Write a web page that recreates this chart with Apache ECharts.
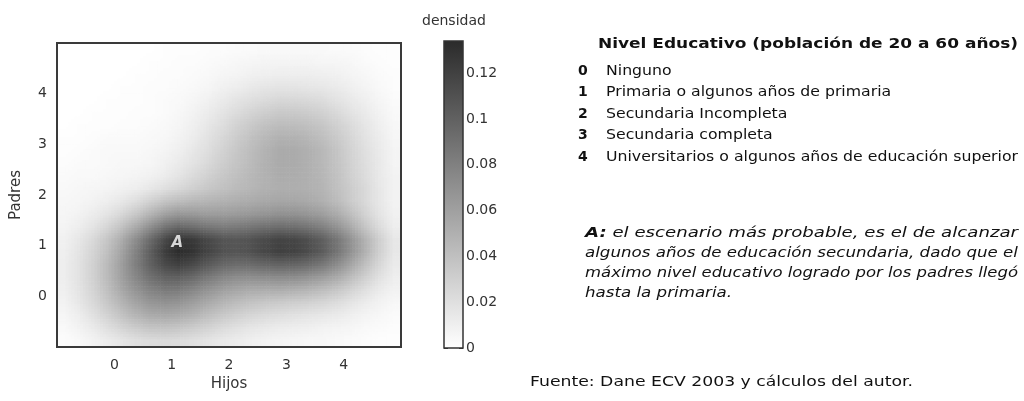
<!DOCTYPE html>
<html>
<head>
<meta charset="utf-8">
<script src="https://cdn.jsdelivr.net/npm/echarts@6/dist/echarts.min.js"></script>
<style>
  html, body { margin: 0; padding: 0; background: #fff; }
  #chart { width: 1024px; height: 401px; }
</style>
</head>
<body>
<div id="chart"></div>
<script>
// etiquetas de los ejes
const hijosTicks = [0, 1, 2, 3, 4]
const padresTicks = [0, 1, 2, 3, 4]
const densidadTicks = [0, 0.02, 0.04, 0.06, 0.08, 0.1, 0.12]
const densidadMax = 0.134

// centros de las celdas (paso 0.25)
const paso = 0.25
const hijosCentros = [-0.875, -0.625, -0.375, -0.125, 0.125, 0.375, 0.625, 0.875, 1.125, 1.375, 1.625, 1.875,
  2.125, 2.375, 2.625, 2.875, 3.125, 3.375, 3.625, 3.875, 4.125, 4.375, 4.625, 4.875]
const padresCentros = [4.875, 4.625, 4.375, 4.125, 3.875, 3.625, 3.375, 3.125, 2.875, 2.625, 2.375, 2.125,
  1.875, 1.625, 1.375, 1.125, 0.875, 0.625, 0.375, 0.125, -0.125, -0.375, -0.625, -0.875]

// densidad x 1000, una fila por cada valor de padresCentros (de arriba hacia abajo)
const densidadMil = [
  [0, 0, 0, 0, 0, 0, 0, 1, 1, 1, 2, 2, 3, 3, 4, 4, 4, 4, 4, 3, 3, 2, 1, 1],
  [0, 0, 0, 0, 0, 0, 1, 1, 2, 2, 3, 4, 5, 6, 7, 7, 7, 7, 6, 6, 5, 3, 2, 1],
  [0, 0, 0, 0, 0, 1, 1, 2, 2, 3, 4, 6, 7, 9, 10, 11, 11, 11, 10, 9, 7, 5, 3, 2],
  [0, 0, 0, 0, 1, 1, 2, 2, 3, 4, 6, 9, 11, 14, 16, 17, 17, 16, 15, 13, 10, 7, 4, 2],
  [0, 0, 0, 1, 1, 1, 2, 3, 4, 6, 9, 13, 17, 20, 23, 25, 25, 24, 22, 18, 14, 10, 6, 3],
  [0, 0, 1, 1, 1, 2, 2, 3, 5, 8, 12, 17, 22, 27, 31, 34, 34, 32, 29, 24, 18, 13, 8, 4],
  [0, 1, 1, 1, 2, 2, 3, 4, 6, 10, 15, 21, 28, 34, 39, 42, 42, 40, 36, 30, 23, 16, 10, 5],
  [1, 1, 2, 3, 3, 3, 4, 5, 8, 12, 18, 25, 32, 39, 45, 49, 49, 46, 41, 34, 26, 18, 12, 6],
  [1, 2, 3, 4, 4, 4, 5, 7, 10, 15, 21, 28, 35, 42, 48, 53, 53, 50, 45, 37, 28, 20, 13, 7],
  [2, 3, 3, 4, 5, 5, 6, 9, 13, 18, 24, 31, 37, 43, 49, 53, 53, 50, 45, 38, 29, 21, 14, 7],
  [3, 4, 4, 5, 6, 7, 9, 12, 17, 23, 29, 35, 40, 45, 49, 52, 52, 50, 46, 39, 30, 22, 14, 8],
  [4, 5, 6, 7, 9, 11, 15, 20, 25, 30, 35, 39, 43, 46, 49, 51, 51, 50, 47, 40, 32, 24, 15, 8],
  [5, 6, 8, 11, 15, 21, 29, 37, 42, 45, 47, 49, 51, 53, 55, 56, 56, 54, 50, 43, 33, 24, 15, 8],
  [6, 8, 12, 17, 25, 35, 47, 59, 65, 64, 62, 62, 63, 65, 67, 69, 69, 66, 61, 53, 41, 28, 17, 9],
  [7, 11, 17, 26, 38, 53, 70, 86, 94, 90, 85, 82, 83, 86, 89, 91, 90, 86, 79, 68, 53, 36, 22, 11],
  [9, 15, 24, 36, 52, 72, 93, 114, 128, 124, 115, 108, 106, 109, 114, 118, 117, 111, 101, 87, 68, 48, 30, 15],
  [10, 17, 27, 40, 58, 79, 101, 122, 133, 128, 118, 110, 107, 110, 116, 120, 119, 113, 103, 88, 69, 49, 30, 15],
  [11, 18, 29, 43, 61, 81, 99, 114, 120, 114, 104, 96, 92, 93, 96, 98, 97, 93, 85, 73, 57, 40, 25, 13],
  [11, 18, 29, 43, 60, 76, 90, 99, 100, 94, 85, 77, 72, 71, 72, 73, 72, 68, 62, 54, 42, 30, 19, 11],
  [10, 17, 27, 40, 55, 68, 78, 84, 83, 76, 68, 61, 56, 53, 52, 52, 50, 47, 42, 36, 28, 20, 13, 8],
  [8, 15, 24, 35, 47, 58, 66, 69, 67, 61, 54, 47, 42, 38, 35, 33, 31, 29, 26, 22, 17, 12, 8, 5],
  [6, 11, 19, 28, 38, 47, 53, 55, 53, 48, 41, 35, 30, 26, 23, 21, 19, 17, 15, 13, 10, 7, 5, 3],
  [4, 8, 13, 20, 27, 33, 37, 38, 36, 32, 28, 23, 19, 16, 14, 12, 11, 10, 8, 7, 6, 4, 3, 2],
  [2, 4, 8, 12, 16, 20, 22, 23, 22, 20, 17, 14, 12, 10, 8, 7, 6, 5, 5, 4, 3, 2, 1, 1]
]

// punto A (escenario más probable)
const puntoA = [1.1, 1.05]

const tituloNiveles = 'Nivel Educativo (población de 20 a 60 años)'
const niveles = [
  'Ninguno',
  'Primaria o algunos años de primaria',
  'Secundaria Incompleta',
  'Secundaria completa',
  'Universitarios o algunos años de educación superior'
]
const notaA = [
  ' el escenario más probable, es el de alcanzar',
  'algunos años de educación secundaria, dado que el',
  'máximo nivel educativo logrado por los padres llegó',
  'hasta la primaria.'
]
const fuente = 'Fuente: Dane ECV 2003 y cálculos del autor.'

const fuenteTexto = 'DejaVu Sans, Verdana, sans-serif'
const grisOscuro = '#2b2b2b'
const escala = ['#ffffff', grisOscuro]

const filas = padresCentros.length
const cols = hijosCentros.length
const celdas = []
padresCentros.forEach((y, r) => {
  hijosCentros.forEach((x, c) => {
    celdas.push([x, y, densidadMil[r][c] / 1000])
  })
})

const soloTicks = lista => v => (lista.some(t => Math.abs(t - v) < 1e-9) ? String(+v.toFixed(2)) : '')

// sombreado suave dentro de cada celda (entre los centros vecinos)
const sub = 5
const valorEn = (q, p) => {
  q = Math.min(Math.max(q, 0), filas - 1)
  p = Math.min(Math.max(p, 0), cols - 1)
  const r0 = Math.floor(q), c0 = Math.floor(p)
  const r1 = Math.min(r0 + 1, filas - 1), c1 = Math.min(c0 + 1, cols - 1)
  const tq = q - r0, tp = p - c0
  const arriba = densidadMil[r0][c0] * (1 - tp) + densidadMil[r0][c1] * tp
  const abajo = densidadMil[r1][c0] * (1 - tp) + densidadMil[r1][c1] * tp
  return (arriba * (1 - tq) + abajo * tq) / 1000
}

// medir texto para ajustar el ancho como en la figura original
const ctx = document.createElement('canvas').getContext('2d')
const ancho = (txt, font) => { ctx.font = font; return ctx.measureText(txt).width }

const fNormal = '14px ' + fuenteTexto
const fBold = 'bold 14px ' + fuenteTexto
const fItal = 'italic 14px ' + fuenteTexto
const fBoldItal = 'italic bold 14px ' + fuenteTexto

const textos = [
  { type: 'text', left: 422, top: 14, style: { text: 'densidad', font: fNormal, fill: '#333' } }
]
textos.push({
  type: 'text', x: 598, y: 44, scaleX: 420 / ancho(tituloNiveles, fBold),
  style: { text: tituloNiveles, font: fBold, fill: '#111', textVerticalAlign: 'middle' }
})
const escItems = (1018 - 606) / ancho(niveles[4], fNormal)
niveles.forEach((t, i) => {
  const y = 71 + i * 21.6
  textos.push({ type: 'text', x: 578, y, style: { text: String(i), font: fBold, fill: '#111', textVerticalAlign: 'middle' } })
  textos.push({ type: 'text', x: 606, y, scaleX: escItems, style: { text: t, font: fNormal, fill: '#111', textVerticalAlign: 'middle' } })
})
const anchoNota = i => (i === 0 ? ancho('A:', fBoldItal) : 0) + ancho(notaA[i], fItal)
const escNota = 433 / anchoNota(1)
notaA.forEach((t, i) => {
  textos.push({
    type: 'text', x: 585, y: 233 + i * 20,
    scaleX: i < 3 ? 433 / anchoNota(i) : escNota,
    style: {
      text: i === 0 ? '{b|A:}' + t : t,
      font: fItal,
      fill: '#111',
      textVerticalAlign: 'middle',
      rich: { b: { fontWeight: 'bold', fontStyle: 'italic', fontSize: 14, fontFamily: fuenteTexto, fill: '#111' } }
    }
  })
})
textos.push({
  type: 'text', x: 530, y: 382, scaleX: 383 / ancho(fuente, fNormal),
  style: { text: fuente, font: fNormal, fill: '#111', textVerticalAlign: 'middle' }
})

const myChart = echarts.init(document.getElementById('chart'))

myChart.setOption({
  backgroundColor: '#fff',
  animation: false,
  textStyle: { fontFamily: fuenteTexto },
  grid: [
    { left: 57, top: 43, width: 344, height: 304, show: true, borderColor: '#3a3a3a', borderWidth: 2, z: 10 },
    { left: 444, top: 41, width: 19, height: 307, show: true, borderColor: '#333', borderWidth: 1.5, z: 10 }
  ],
  xAxis: [
    {
      type: 'value', min: -1, max: 5, interval: 1,
      name: 'Hijos', nameLocation: 'middle', nameGap: 30,
      nameTextStyle: { fontSize: 15, color: '#333' },
      axisLine: { show: false }, axisTick: { show: false }, splitLine: { show: false },
      axisLabel: { formatter: soloTicks(hijosTicks), fontSize: 14, color: '#333', margin: 11 }
    },
    { type: 'category', gridIndex: 1, data: ['d'], show: false }
  ],
  yAxis: [
    {
      type: 'value', min: -1, max: 5, interval: 1,
      name: 'Padres', nameLocation: 'middle', nameGap: 33,
      nameTextStyle: { fontSize: 15, color: '#333' },
      axisLine: { show: false }, axisTick: { show: false }, splitLine: { show: false },
      axisLabel: { formatter: soloTicks(padresTicks), fontSize: 14, color: '#333', margin: 10 }
    },
    {
      type: 'value', gridIndex: 1, position: 'right', min: 0, max: densidadMax, interval: 0.02,
      axisLine: { show: false }, splitLine: { show: false },
      axisTick: { show: true, inside: true, length: 4, lineStyle: { color: '#333' } },
      axisLabel: { formatter: soloTicks(densidadTicks), fontSize: 14, color: '#333', margin: 3, showMaxLabel: false }
    },
    {
      type: 'value', gridIndex: 1, position: 'left', min: 0, max: densidadMax, interval: 0.02,
      axisLine: { show: false }, splitLine: { show: false },
      axisTick: { show: true, inside: true, length: 4, lineStyle: { color: '#333' } },
      axisLabel: { show: false }
    }
  ],
  series: [
    {
      type: 'custom',
      xAxisIndex: 0,
      yAxisIndex: 0,
      clip: true,
      data: celdas,
      encode: { x: 0, y: 1 },
      renderItem(params, api) {
        const x = api.value(0)
        const y = api.value(1)
        const r = Math.floor(params.dataIndex / cols)
        const c = params.dataIndex % cols
        const a = api.coord([x - paso / 2, y + paso / 2])
        const b = api.coord([x + paso / 2, y - paso / 2])
        const w = (b[0] - a[0]) / sub
        const h = (b[1] - a[1]) / sub
        const children = []
        for (let j = 0; j < sub; j++) {
          for (let i = 0; i < sub; i++) {
            const v = valorEn(r + (j + 0.5) / sub - 0.5, c + (i + 0.5) / sub - 0.5)
            children.push({
              type: 'rect',
              shape: { x: a[0] + i * w, y: a[1] + j * h, width: w + 0.6, height: h + 0.6 },
              style: { fill: echarts.color.lerp(Math.min(v / densidadMax, 1), escala) }
            })
          }
        }
        return { type: 'group', children }
      }
    },
    {
      type: 'scatter',
      xAxisIndex: 0,
      yAxisIndex: 0,
      data: [puntoA],
      symbolSize: 1,
      itemStyle: { color: 'transparent' },
      label: { show: true, position: 'inside', formatter: 'A', color: '#fff', fontWeight: 'bold', fontStyle: 'italic', fontSize: 15 },
      z: 5
    },
    {
      type: 'bar',
      xAxisIndex: 1,
      yAxisIndex: 1,
      data: [densidadMax],
      barWidth: '100%',
      silent: true,
      itemStyle: {
        color: { type: 'linear', x: 0, y: 0, x2: 0, y2: 1, colorStops: [{ offset: 0, color: grisOscuro }, { offset: 1, color: '#ffffff' }] }
      }
    }
  ],
  graphic: textos
})

window.addEventListener('resize', () => { myChart.resize() })
</script>
</body>
</html>
